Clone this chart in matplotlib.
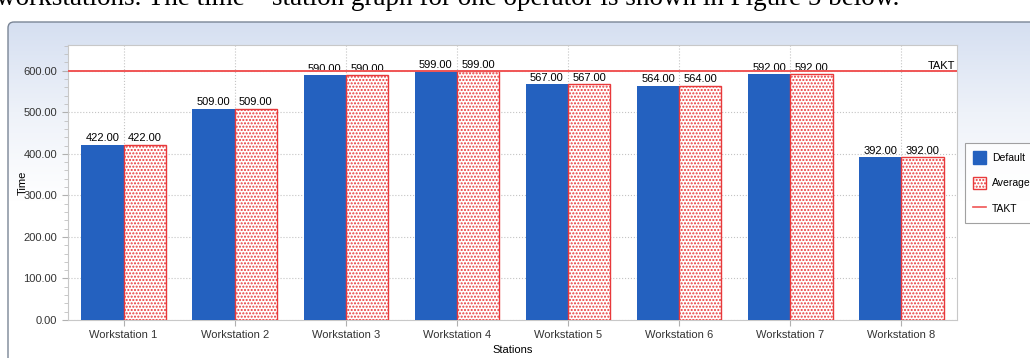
import numpy as np
import matplotlib
matplotlib.use("Agg")
import matplotlib.pyplot as plt
from matplotlib.patches import FancyBboxPatch, Patch
from matplotlib.lines import Line2D
from matplotlib.ticker import MultipleLocator, FormatStrFormatter
from matplotlib.colors import LinearSegmentedColormap

matplotlib.rcParams['font.family'] = ['Liberation Sans', 'DejaVu Sans']

stations = ["Workstation 1", "Workstation 2", "Workstation 3", "Workstation 4",
            "Workstation 5", "Workstation 6", "Workstation 7", "Workstation 8"]
default_time = [422, 509, 590, 599, 567, 564, 592, 392]
average_time = [422, 509, 590, 599, 567, 564, 592, 392]
takt = 600

W, H = 1030, 358
blue = '#2461bf'
red = '#e8393b'
fs = 8

fig = plt.figure(figsize=(W / 100, H / 100), dpi=100)

# background panel with gradient
bg = fig.add_axes([0, 0, 1, 1], zorder=-5)
bg.set_xlim(0, W)
bg.set_ylim(H, 0)
bg.axis('off')
panel = FancyBboxPatch((8, 22), W + 20, H, boxstyle="round,pad=0,rounding_size=6",
                       facecolor='none', edgecolor='#7a8596', linewidth=1.0, zorder=2)
bg.add_patch(panel)
cmap = LinearSegmentedColormap.from_list('g', ['#d5dff1', '#eef2f9', '#ffffff'])
grad = np.linspace(0, 1, 256).reshape(-1, 1)
im = bg.imshow(grad, cmap=cmap, aspect='auto', extent=[8, W + 20, 22 + 180, 22], zorder=0)
im.set_clip_path(panel)
bg.add_patch(FancyBboxPatch((8, 22 + 179), W + 20, H, boxstyle="square,pad=0",
                            facecolor='white', edgecolor='none', zorder=0))

# cropped caption line at the very top
fig.text(-0.004, 1 - 5 / H, "workstations. The time \u2013 station graph for one operator is shown in Figure 5 below.",
         family=['Liberation Serif', 'DejaVu Serif'], fontsize=19.5, va='baseline', ha='left')

ax = fig.add_axes([68 / W, (H - 320) / H, (957 - 68) / W, (320 - 45) / H])
x = np.arange(len(stations))
w = 0.38
b1 = ax.bar(x - w / 2, default_time, w, color=blue, zorder=3, label='Default')
b2 = ax.bar(x + w / 2, average_time, w, facecolor='white', edgecolor=red, hatch='.....',
            linewidth=1.0, zorder=3, label='Average')
ax.axhline(takt, color='#f05555', linewidth=1.4, zorder=4)
ax.text(len(stations) - 0.52, takt, 'TAKT', ha='right', va='bottom', fontsize=fs)

ax.bar_label(b1, fmt='%.2f', padding=1, fontsize=fs)
ax.bar_label(b2, fmt='%.2f', padding=1, fontsize=fs)

ax.set_xlim(-0.5, len(stations) - 0.5)
ax.set_ylim(0, 662)
ax.set_xticks(x)
ax.set_xticklabels(stations, fontsize=fs, color='#333333')
ax.yaxis.set_major_locator(MultipleLocator(100))
ax.yaxis.set_minor_locator(MultipleLocator(20))
ax.yaxis.set_major_formatter(FormatStrFormatter('%.2f'))
ax.tick_params(axis='y', labelsize=fs, labelcolor='#333333', color='#b0b0b0', length=4, pad=4)
ax.tick_params(axis='y', which='minor', color='#c0c0c0', length=3)
ax.tick_params(axis='x', color='#b0b0b0', length=4, pad=3)

ax.set_axisbelow(True)
ax.grid(True, color='#c4c4c4', linestyle=':', linewidth=0.8)
for s in ax.spines.values():
    s.set_color('#c8c8c8')

ax.set_xlabel('Stations', fontsize=fs)
ax.set_ylabel('Time', fontsize=fs)
ax.xaxis.set_label_coords(0.5, -0.09)
ax.yaxis.set_label_coords(-0.045, 0.5)

handles = [Patch(facecolor=blue, edgecolor=blue),
           Patch(facecolor='white', edgecolor=red, hatch='.....'),
           Line2D([], [], color='#f05555', linewidth=1.2)]
leg = fig.legend(handles, ['Default', 'Average', 'TAKT'], loc='upper left',
                 bbox_to_anchor=(965 / W, (H - 143) / H), fontsize=7.5, frameon=True,
                 fancybox=False, edgecolor='#8a8a8a', handlelength=1.25, handleheight=1.5,
                 borderpad=0.8, labelspacing=1.2, handletextpad=0.55, borderaxespad=0)
leg.get_frame().set_linewidth(0.8)

fig.savefig('out.png', dpi=100)
